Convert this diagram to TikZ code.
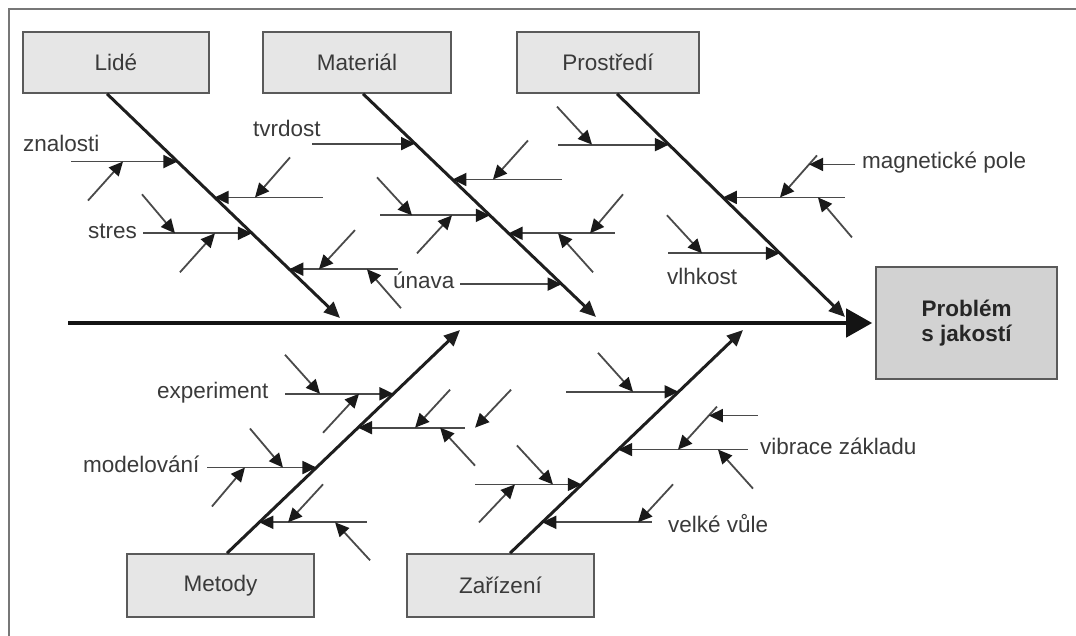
\documentclass[tikz,border=0pt]{standalone}
\usepackage{fontspec}
\setmainfont{Liberation Sans}
\usetikzlibrary{arrows.meta,calc}

\definecolor{framegray}{HTML}{777777}
\definecolor{boxfill}{HTML}{E6E6E6}
\definecolor{probfill}{HTML}{D2D2D2}
\definecolor{boxedge}{HTML}{5A5A5A}
\definecolor{txt}{HTML}{3A3A3A}
\definecolor{twigc}{HTML}{4A4A4A}
\definecolor{bonec}{HTML}{1E1E1E}

\tikzset{
  cat/.style={draw=boxedge, fill=boxfill, line width=1.6pt, inner sep=0pt,
    font=\fontsize{22.5}{25}\selectfont, text=txt},
  bone/.style={draw=bonec, line width=3pt, -{Triangle[length=16pt,width=14pt]}},
  twigin/.style={draw=twigc, line width=1.8pt, {Triangle[length=14pt,width=13pt,color=black!90]}-},
  lbl/.style={font=\fontsize{22.5}{25}\selectfont, text=txt, inner sep=0pt, anchor=base west},
}

\begin{document}
\begin{tikzpicture}[x=1pt,y=-1pt]
\useasboundingbox (0,0) rectangle (1076,636);

% outer frame (top and left edges)
\draw[framegray, line width=2.5pt] (1076,9) -- (9,9) -- (9,636);

% category boxes and the effect
\node[cat, minimum width=186pt, minimum height=61pt] (lide) at (116,62.5) {Lidé};
\node[cat, minimum width=188pt, minimum height=61pt] (mat)  at (357,62.5) {Materiál};
\node[cat, minimum width=182pt, minimum height=61pt] (env)  at (608,62.5) {Prostředí};
\node[cat, minimum width=187pt, minimum height=63pt] (met)  at (220.5,585.5) {Metody};
\node[cat, minimum width=187pt, minimum height=63pt] (dev)  at (500.5,585.5) {Zařízení};
\node[cat, fill=probfill, minimum width=181pt, minimum height=112pt, align=center,
      font=\bfseries\fontsize{22.5}{25}\selectfont, text=black!85] (prob) at (966.5,323) {Problém\\s jakostí};

% spine
\coordinate (s0) at (68,323);
\draw[black!92, line width=4.5pt, -{Triangle[length=26pt,width=28pt]}] (s0) -- ([xshift=-3pt]prob.west);

% main bones
\coordinate (Lt) at ([xshift=-9pt]lide.south);  \coordinate (Lh) at (340,318);
\coordinate (Mt) at ([xshift=6pt]mat.south);    \coordinate (Mh) at (596,317);
\coordinate (Pt) at ([xshift=9pt]env.south);    \coordinate (Ph) at (845,317);
\coordinate (Et) at ([xshift=6.5pt]met.north);  \coordinate (Eh) at (460,330);
\coordinate (Zt) at ([xshift=9.5pt]dev.north);  \coordinate (Zh) at (743,330);
\draw[bone] (Lt) -- (Lh);
\draw[bone] (Mt) -- (Mh);
\draw[bone] (Pt) -- (Ph);
\draw[bone] (Et) -- (Eh);
\draw[bone] (Zt) -- (Zh);

% ---- Lidé
\coordinate (La) at ($(Lt)!0.3022!(Lh)$);
\coordinate (Lb) at ($(Lt)!0.4622!(Lh)$);
\coordinate (Lc) at ($(Lt)!0.6222!(Lh)$);
\coordinate (Ld) at ($(Lt)!0.7822!(Lh)$);
\draw[twigin] (La) -- ++(-106.4,0) coordinate (Laf);
\draw[twigin] (Lb) -- ++(108.3,0) coordinate (Lbf);
\draw[twigin] (Lc) -- ++(-109,0) coordinate (Lcf);
\draw[twigin] (Ld) -- ++(108.7,0) coordinate (Ldf);
\draw[twigin] ($(Laf)+(52,0)$) -- ++(-35,39);
\draw[twigin] ($(Lbf)+(-68,0)$) -- ++(35,-40);
\draw[twigin] ($(Lcf)+(32,0)$) -- ++(-33,-39);
\draw[twigin] ($(Lcf)+(72,0)$) -- ++(-35,39);
\draw[twigin] ($(Ldf)+(-79,0)$) -- ++(36,-39);
\draw[twigin] ($(Ldf)+(-31,0)$) -- ++(34,39);
\node[lbl] (t-znal) at (23,152) {znalosti};
\node[lbl] (t-stres) at (88,238.5) {stres};

% ---- Materiál
\coordinate (Ma) at ($(Mt)!0.2232!(Mh)$);
\coordinate (Mb) at ($(Mt)!0.3839!(Mh)$);
\coordinate (Mc) at ($(Mt)!0.5446!(Mh)$);
\coordinate (Md) at ($(Mt)!0.625!(Mh)$);
\coordinate (Me) at ($(Mt)!0.8527!(Mh)$);
\draw[twigin] (Ma) -- ++(-103,0) coordinate (Maf);
\draw[twigin] (Mb) -- ++(109.5,0) coordinate (Mbf);
\draw[twigin] (Mc) -- ++(-109.9,0) coordinate (Mcf);
\draw[twigin] (Md) -- ++(106.4,0) coordinate (Mdf);
\draw[twigin] (Me) -- ++(-101.7,0) coordinate (Mef);
\draw[twigin] ($(Mbf)+(-69,0)$) -- ++(35,-39);
\draw[twigin] ($(Mcf)+(32,0)$) -- ++(-35,-38);
\draw[twigin] ($(Mcf)+(72,0)$) -- ++(-35,38);
\draw[twigin] ($(Mdf)+(-25,0)$) -- ++(33,-39);
\draw[twigin] ($(Mdf)+(-57,0)$) -- ++(35,39);
\node[lbl] (t-tvrd) at (253,137) {tvrdost};
\node[lbl] (t-unava) at (393,289) {únava};

% ---- Prostředí
\coordinate (Pa) at ($(Pt)!0.2277!(Ph)$);
\coordinate (Pb) at ($(Pt)!0.4643!(Ph)$);
\coordinate (Pc) at ($(Pt)!0.7143!(Ph)$);
\draw[twigin] (Pa) -- ++(-110.9,0) coordinate (Paf);
\draw[twigin] (Pb) -- ++(122.1,0) coordinate (Pbf);
\draw[twigin] (Pc) -- ++(-111.9,0) coordinate (Pcf);
\draw[twigin] ($(Paf)+(34,0)$) -- ++(-35,-38);
\draw[twigin] ($(Pbf)+(-65,0)$) coordinate (Pbd) -- ++(37,-42) coordinate (Pbdf);
\draw[twigin] ($(Pbd)!0.786!(Pbdf)$) -- ++(46,0);
\draw[twigin] ($(Pbf)+(-27,0)$) -- ++(34,40);
\draw[twigin] ($(Pcf)+(34,0)$) -- ++(-35,-38);
\node[lbl] (t-mag) at (862,168.5) {magnetické pole};
\node[lbl] (t-vlh) at (667,285) {vlhkost};

% ---- Metody
\coordinate (Ea) at ($(Et)!0.7143!(Eh)$);
\coordinate (Eb) at ($(Et)!0.5625!(Eh)$);
\coordinate (Ec) at ($(Et)!0.3839!(Eh)$);
\coordinate (Ed) at ($(Et)!0.1384!(Eh)$);
\draw[twigin] (Ea) -- ++(-108.4,0) coordinate (Eaf);
\draw[twigin] (Eb) -- ++(107,0) coordinate (Ebf);
\draw[twigin] (Ec) -- ++(-109.5,0) coordinate (Ecf);
\draw[twigin] (Ed) -- ++(107.8,0) coordinate (Edf);
\draw[twigin] ($(Eaf)+(35,0)$) -- ++(-35,-39);
\draw[twigin] ($(Eaf)+(74,0)$) -- ++(-36,39);
\draw[twigin] ($(Ebf)+(-50,0)$) -- ++(35,-38);
\draw[twigin] ($(Ebf)+(-25,0)$) -- ++(35,38);
\draw[twigin] ($(Ebf)+(10,0)$) -- ++(36,-38);
\draw[twigin] ($(Ecf)+(76,0)$) -- ++(-33,-39);
\draw[twigin] ($(Ecf)+(38,0)$) -- ++(-33,39);
\draw[twigin] ($(Edf)+(-79,0)$) -- ++(35,-38);
\draw[twigin] ($(Edf)+(-32,0)$) -- ++(35,38);
\node[lbl] (t-exp) at (157,398.5) {experiment};
\node[lbl] (t-mod) at (83,472) {modelování};

% ---- Zařízení
\coordinate (Za) at ($(Zt)!0.7232!(Zh)$);
\coordinate (Zb) at ($(Zt)!0.4643!(Zh)$);
\coordinate (Zc) at ($(Zt)!0.3080!(Zh)$);
\coordinate (Zd) at ($(Zt)!0.1384!(Zh)$);
\draw[twigin] (Za) -- ++(-112.5,0) coordinate (Zaf);
\draw[twigin] (Zb) -- ++(129.8,0) coordinate (Zbf);
\draw[twigin] (Zc) -- ++(-106.8,0) coordinate (Zcf);
\draw[twigin] (Zd) -- ++(109.8,0) coordinate (Zdf);
\draw[twigin] ($(Zaf)+(67,0)$) -- ++(-35,-39);
\draw[twigin] ($(Zbf)+(-70,0)$) coordinate (Zbd) -- ++(39,-43) coordinate (Zbdf);
\draw[twigin] ($(Zbd)!0.791!(Zbdf)$) -- ++(49,0);
\draw[twigin] ($(Zbf)+(-30,0)$) -- ++(35,39);
\draw[twigin] ($(Zcf)+(78,0)$) -- ++(-36,-39);
\draw[twigin] ($(Zcf)+(40,0)$) -- ++(-36,38);
\draw[twigin] ($(Zdf)+(-14,0)$) -- ++(35,-38);
\node[lbl] (t-vib) at (760,454) {vibrace základu};
\node[lbl] (t-vule) at (668,532) {velké vůle};
\end{tikzpicture}
\end{document}
